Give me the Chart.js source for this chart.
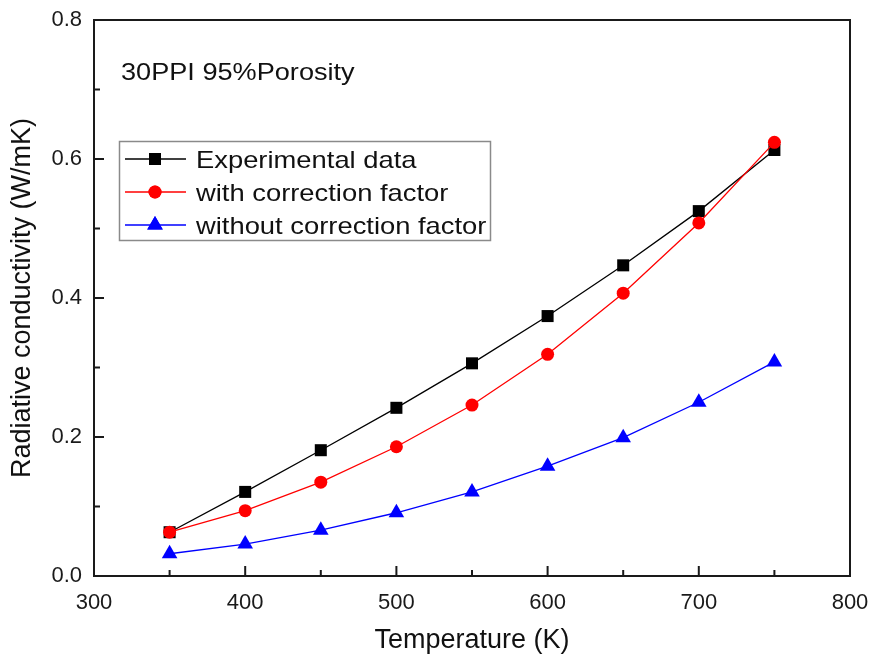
<!DOCTYPE html>
<html><head><meta charset="utf-8">
<script src="https://cdn.jsdelivr.net/npm/chart.js@4/dist/chart.umd.min.js"></script>
<style>html,body{margin:0;padding:0;background:#fff;}#wrap{width:872px;height:662px;position:relative;}</style>
</head><body><div id="wrap"><canvas id="c" width="872" height="662"></canvas></div>
<script>
const temperatures = [350, 400, 450, 500, 550, 600, 650, 700, 750];
const experimental = [0.063, 0.121, 0.181, 0.242, 0.306, 0.374, 0.447, 0.525, 0.613];
const withCorrection = [0.063, 0.094, 0.135, 0.186, 0.246, 0.319, 0.407, 0.508, 0.624];
const withoutCorrection = [0.032, 0.046, 0.066, 0.091, 0.121, 0.158, 0.199, 0.250, 0.308];
const xTicks = [300, 400, 500, 600, 700, 800];
const yTicks = [0.0, 0.2, 0.4, 0.6, 0.8];
const xMinorTicks = [350, 450, 550, 650, 750];
const yMinorTicks = [0.1, 0.3, 0.5, 0.7];
const seriesNames = ['Experimental data', 'with correction factor', 'without correction factor'];
const annotationText = '30PPI 95%Porosity';
const xTitle = 'Temperature (K)';
const yTitle = 'Radiative conductivity (W/mK)';

const FONT = '"Liberation Sans", Arial, sans-serif';
const toPts = (ys) => temperatures.map((t, i) => ({x: t, y: ys[i]}));

const styles = [
  {color: '#000000', pointStyle: 'rect', radius: 8.5, order: 1},
  {color: '#ff0000', pointStyle: 'circle', radius: 6.5, order: 0},
  {color: '#0000ff', pointStyle: 'triangle', radius: 9, order: 2}
];
const seriesData = [experimental, withCorrection, withoutCorrection];

const datasets = seriesData.map((d, i) => ({
  label: seriesNames[i],
  data: toPts(d),
  borderColor: styles[i].color,
  backgroundColor: styles[i].color,
  pointBackgroundColor: styles[i].color,
  pointBorderColor: styles[i].color,
  pointBorderWidth: 0,
  pointStyle: styles[i].pointStyle,
  pointRadius: styles[i].radius,
  borderWidth: 1.3,
  tension: 0,
  order: styles[i].order
}));

function scaledText(ctx, text, x, y, size, sx) {
  ctx.save();
  ctx.translate(x, y);
  ctx.scale(sx, 1);
  ctx.font = size + 'px ' + FONT;
  ctx.textBaseline = 'alphabetic';
  ctx.textAlign = 'left';
  ctx.fillStyle = '#111';
  ctx.fillText(text, 0, 0);
  ctx.restore();
}

const framePlugin = {
  id: 'frame',
  afterDraw(chart) {
    const ctx = chart.ctx;
    const a = chart.chartArea;
    const xs = chart.scales.x, ys = chart.scales.y;
    ctx.save();
    ctx.strokeStyle = '#1a1a1a';
    ctx.lineWidth = 2;
    ctx.strokeRect(a.left, a.top, a.right - a.left, a.bottom - a.top);
    ctx.beginPath();
    xTicks.forEach(v => { const p = xs.getPixelForValue(v); ctx.moveTo(p, a.bottom); ctx.lineTo(p, a.bottom - 10); });
    xMinorTicks.forEach(v => { const p = xs.getPixelForValue(v); ctx.moveTo(p, a.bottom); ctx.lineTo(p, a.bottom - 6); });
    yTicks.forEach(v => { const p = ys.getPixelForValue(v); ctx.moveTo(a.left, p); ctx.lineTo(a.left + 10, p); });
    yMinorTicks.forEach(v => { const p = ys.getPixelForValue(v); ctx.moveTo(a.left, p); ctx.lineTo(a.left + 6, p); });
    ctx.stroke();

    // annotation
    scaledText(ctx, annotationText, 121, 80, 24, 1.13);

    // legend
    const bx = 119.5, by = 141.5, bw = 371, bh = 99;
    ctx.fillStyle = '#fff';
    ctx.fillRect(bx, by, bw, bh);
    ctx.strokeStyle = '#8a8a8a';
    ctx.lineWidth = 1.5;
    ctx.strokeRect(bx, by, bw, bh);
    const rows = [159, 192, 225];
    rows.forEach((ry, i) => {
      ctx.strokeStyle = styles[i].color;
      ctx.lineWidth = 1.3;
      ctx.beginPath();
      ctx.moveTo(125, ry); ctx.lineTo(186, ry);
      ctx.stroke();
      ctx.fillStyle = styles[i].color;
      Chart.helpers.drawPoint(ctx, {pointStyle: styles[i].pointStyle, radius: styles[i].radius, rotation: 0, borderWidth: 0}, 155, ry);
      ctx.fill();
      scaledText(ctx, seriesNames[i], 196, ry + 8.5, 24, 1.14);
    });
    ctx.restore();
  }
};

const zeroPad = s => { s.paddingLeft = 0; s.paddingRight = 0; s.paddingTop = 0; s.paddingBottom = 0; };

new Chart(document.getElementById('c'), {
  type: 'line',
  data: {datasets},
  options: {
    responsive: false,
    animation: false,
    devicePixelRatio: 1,
    layout: {padding: {left: 0, right: 22, top: 20, bottom: 0}},
    plugins: {legend: {display: false}, tooltip: {enabled: false}},
    scales: {
      x: {
        type: 'linear', min: 300, max: 800,
        afterBuildTicks: s => { s.ticks = xTicks.map(v => ({value: v})); },
        afterFit: s => { s.height = 86; zeroPad(s); },
        grid: {display: false, drawTicks: false, tickLength: 0}, border: {display: false},
        ticks: {font: {family: FONT, size: 22}, color: '#1a1a1a', padding: 14, maxRotation: 0},
        title: {display: true, text: xTitle, font: {family: FONT, size: 27}, color: '#111', padding: {top: 0, bottom: 5}}
      },
      y: {
        type: 'linear', min: 0, max: 0.8,
        afterBuildTicks: s => { s.ticks = yTicks.map(v => ({value: v})); },
        afterFit: s => { s.width = 94; zeroPad(s); },
        grid: {display: false, drawTicks: false, tickLength: 0}, border: {display: false},
        ticks: {font: {family: FONT, size: 22}, color: '#1a1a1a', padding: 12, callback: v => Number(v).toFixed(1)},
        title: {display: true, text: yTitle, font: {family: FONT, size: 27}, color: '#111', padding: {top: 6, bottom: 0}}
      }
    }
  },
  plugins: [framePlugin]
});
</script></body></html>
